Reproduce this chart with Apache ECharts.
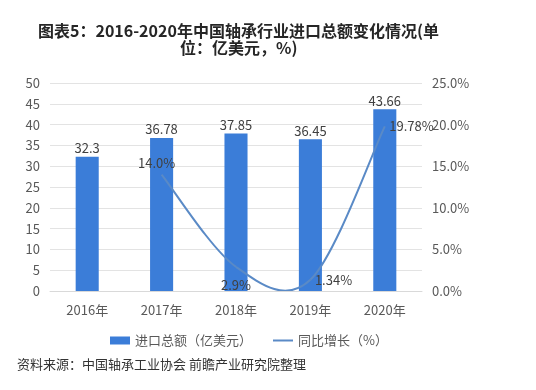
<!DOCTYPE html>
<html>
<head>
<meta charset="utf-8">
<script src="https://cdn.jsdelivr.net/npm/echarts@6/dist/echarts.min.js"></script>
<style>
html,body{margin:0;padding:0;background:#fff;}
#main{width:536px;height:390px;}
</style>
</head>
<body>
<div id="main"></div>
<script>
var categories = ['2016年', '2017年', '2018年', '2019年', '2020年'];
var importTotal = [32.3, 36.78, 37.85, 36.45, 43.66];
var growthRate = [null, 14.0, 2.9, 1.34, 19.78];
var growthLabelText = ['', '14.0%', '2.9%', '1.34%', '19.78%'];
var growthLabelPos = ['top', 'top', 'bottom', 'right', 'right'];
var leftTicks = [0, 5, 10, 15, 20, 25, 30, 35, 40, 45, 50];
var rightTicks = [0, 5, 10, 15, 20, 25];

var chart = echarts.init(document.getElementById('main'), null, {renderer: 'canvas'});
var font = '"Microsoft YaHei","Noto Sans CJK SC",sans-serif';
var lineColor = '#5a8ac6';

var labelDistance = [4, 4, 11, 4, 4];
var labelOffset = [[0, 0], [-5, 0], [0, 0], [0, 0], [0, 0]];

var lineData = growthRate.map(function (v, i) {
  return {
    value: v,
    label: {
      show: v !== null,
      position: growthLabelPos[i],
      distance: labelDistance[i],
      offset: labelOffset[i],
      formatter: growthLabelText[i]
    }
  };
});

// Smooth curve (Excel-like Catmull-Rom bezier) through points mapped by the axes
function renderCurve(params, api) {
  var i = params.dataIndex;
  if (i < 1 || growthRate[i] === null || growthRate[i - 1] === null) return null;
  function pt(k) {
    return api.coord([k, growthRate[k]]);
  }
  var p1 = pt(i - 1), p2 = pt(i);
  var p0 = (i - 2 >= 0 && growthRate[i - 2] !== null) ? pt(i - 2) : p1;
  var p3 = (i + 1 < growthRate.length && growthRate[i + 1] !== null) ? pt(i + 1) : p2;
  var t = 1 / 6;
  var c1 = [p1[0] + (p2[0] - p0[0]) * t, p1[1] + (p2[1] - p0[1]) * t];
  var c2 = [p2[0] - (p3[0] - p1[0]) * t, p2[1] - (p3[1] - p1[1]) * t];
  return {
    type: 'bezierCurve',
    shape: {x1: p1[0], y1: p1[1], cpx1: c1[0], cpy1: c1[1], cpx2: c2[0], cpy2: c2[1], x2: p2[0], y2: p2[1]},
    style: {stroke: lineColor, lineWidth: 2, fill: null},
    silent: true
  };
}

var option = {
  backgroundColor: '#ffffff',
  textStyle: {fontFamily: font},
  graphic: [
    {
      type: 'text', left: 38, top: 23,
      style: {
        text: '图表5：2016-2020年中国轴承行业进口总额变化情况(单',
        fill: '#262626', font: 'bold 16px ' + font
      }
    },
    {
      type: 'text', left: 180, top: 40,
      style: {
        text: '位：亿美元，%)',
        fill: '#262626', font: 'bold 16px ' + font
      }
    },
    {
      type: 'text', left: 17, top: 358,
      style: {
        text: '资料来源：中国轴承工业协会 前瞻产业研究院整理',
        fill: '#333333', font: '13px ' + font
      }
    }
  ],
  grid: {left: 50, right: 114, top: 83, bottom: 99},
  legend: {
    top: 329, left: 105,
    itemGap: 20,
    itemWidth: 20, itemHeight: 8,
    textStyle: {color: '#595959', fontSize: 13, fontFamily: font},
    data: [
      {name: '进口总额（亿美元）', icon: 'rect'},
      {name: '同比增长（%）', lineStyle: {color: lineColor, width: 2, opacity: 1}, itemStyle: {color: 'rgba(0,0,0,0)', borderWidth: 0}}
    ]
  },
  xAxis: {
    type: 'category',
    data: categories,
    axisLine: {show: true, lineStyle: {color: '#d9d9d9'}},
    axisTick: {show: false},
    axisLabel: {color: '#595959', fontSize: 13, margin: 13, fontFamily: font}
  },
  yAxis: [
    {
      type: 'value', min: leftTicks[0], max: leftTicks[leftTicks.length - 1], interval: 5,
      axisLine: {show: false}, axisTick: {show: false},
      axisLabel: {color: '#595959', fontSize: 13, margin: 10, fontFamily: font},
      splitLine: {lineStyle: {color: '#e3e3e3'}}
    },
    {
      type: 'value', min: rightTicks[0], max: rightTicks[rightTicks.length - 1], interval: 5,
      axisLine: {show: false}, axisTick: {show: false},
      axisLabel: {color: '#595959', fontSize: 13, margin: 10, fontFamily: font,
        formatter: function (v) { return v.toFixed(1) + '%'; }},
      splitLine: {show: false}
    }
  ],
  series: [
    {
      name: '进口总额（亿美元）',
      type: 'bar',
      yAxisIndex: 0,
      data: importTotal,
      barWidth: '31%',
      itemStyle: {color: '#3b7dd8'},
      label: {show: true, position: 'top', distance: 2, color: '#404040', fontSize: 13, fontFamily: font}
    },
    {
      name: '同比增长曲线',
      type: 'custom',
      yAxisIndex: 1,
      data: growthRate.map(function (v, i) { return [i, v === null ? 0 : v]; }),
      renderItem: renderCurve,
      clip: true,
      z: 3,
      silent: true
    },
    {
      name: '同比增长（%）',
      type: 'line',
      yAxisIndex: 1,
      data: lineData,
      symbol: 'circle',
      symbolSize: 1,
      connectNulls: false,
      lineStyle: {color: lineColor, width: 2, opacity: 0},
      itemStyle: {color: 'rgba(0,0,0,0)', borderWidth: 0},
      label: {color: '#404040', fontSize: 13, fontFamily: font},
      z: 4
    }
  ]
};
chart.setOption(option);
</script>
</body>
</html>
